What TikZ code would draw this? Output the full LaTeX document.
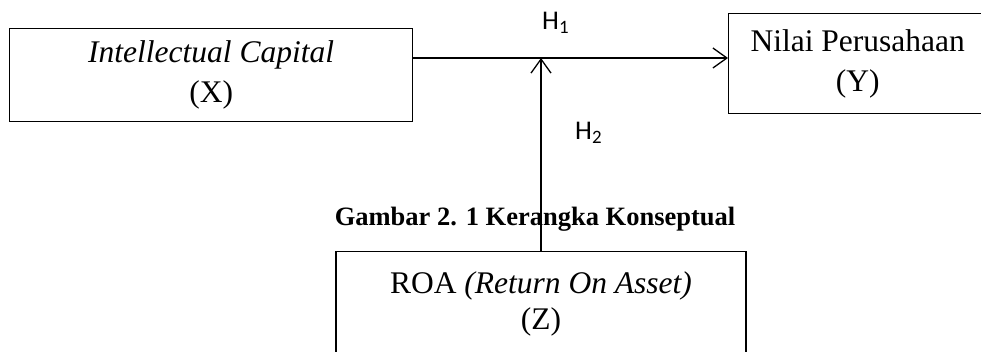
\documentclass[tikz,border=0pt]{standalone}
\usepackage{fontspec}
\setmainfont{Liberation Serif}
\newfontfamily\carlitofont{Carlito}
\usetikzlibrary{arrows.meta}
\tikzset{
  box/.style={draw=black, line width=1.3pt, rectangle, inner sep=0pt, align=center,
              font=\fontsize{31.5}{40}\selectfont},
  lbl/.style={inner sep=0pt, align=center, font=\fontsize{31.5}{36}\selectfont},
  hyp/.style={inner sep=0pt, font=\carlitofont\fontsize{27}{30}\selectfont},
  captext/.style={inner sep=0pt, font=\bfseries\fontsize{26.5}{30}\selectfont},
  arr/.style={line width=1.3pt, -{Straight Barb[length=14pt,width=20pt,line width=1.3pt]}}
}
\begin{document}
\begin{tikzpicture}[x=1pt,y=1pt]
\useasboundingbox (0,0) rectangle (981,-352);
\node[captext, anchor=base] (caption) at (535,-226) {Gambar 2. 1 Kerangka Konseptual};
\node[box, minimum width=403pt, minimum height=93pt, anchor=north west] (X) at (9,-28)
  {\textit{Intellectual Capital}\\(X)};
\node[box, minimum width=258pt, minimum height=100pt, anchor=north west] (Y) at (728,-13)
  {Nilai Perusahaan\\(Y)};
\node[box, minimum width=410pt, minimum height=120pt, anchor=north] (Z) at (541,-251) {};
\node[lbl] (Zt) at (541,-304) {ROA \textit{(Return On Asset)}\\(Z)};
\coordinate (h) at (0,-58);
\draw[arr] (X.east |- h) -- (Y.west |- h);
\draw[arr] (Z.north) -- (Z.north |- h);
\node[hyp, anchor=base west] (H1) at (542,-30) {H\textsubscript{1}};
\node[hyp, anchor=base west] (H2) at (575,-140) {H\textsubscript{2}};
\end{tikzpicture}
\end{document}
